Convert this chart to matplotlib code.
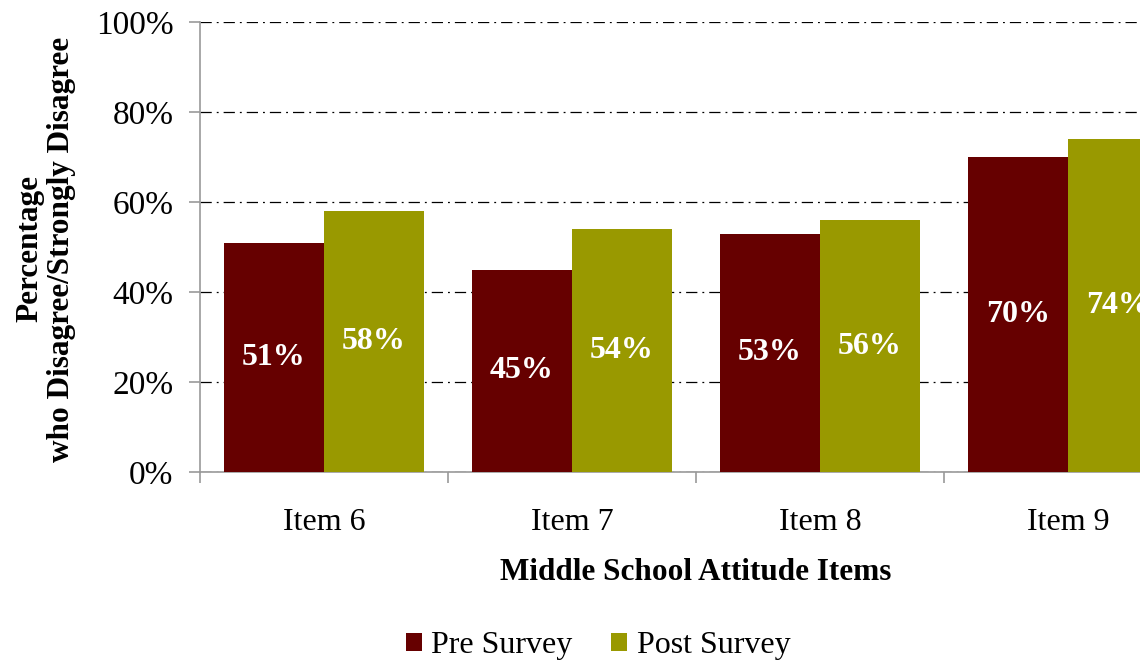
import matplotlib
matplotlib.use("Agg")
import matplotlib.pyplot as plt
import numpy as np
from matplotlib.patches import Patch

categories = ["Item 6", "Item 7", "Item 8", "Item 9"]
pre_values = [51, 45, 53, 70]
post_values = [58, 54, 56, 74]
series_names = ["Pre Survey", "Post Survey"]
yticks = [0, 20, 40, 60, 80, 100]

pre_color = "#660000"
post_color = "#999900"

plt.rcParams['font.family'] = ['Liberation Serif', 'DejaVu Serif']

W, H = 1140, 661
fig = plt.figure(figsize=(W / 100, H / 100), dpi=100)
ax = fig.add_axes([200 / W, 1 - 472 / H, 992 / W, 450 / H])

x = np.arange(len(categories))
bw = 0.403
ax.bar(x - bw / 2, pre_values, bw, color=pre_color, zorder=3)
ax.bar(x + bw / 2, post_values, bw, color=post_color, zorder=3)

for xi, v in zip(x - bw / 2, pre_values):
    ax.text(xi, v / 2, f"{v}%", ha="center", va="center", color="white",
            fontsize=23, fontweight="bold", zorder=4)
for xi, v in zip(x + bw / 2, post_values):
    ax.text(xi, v / 2, f"{v}%", ha="center", va="center", color="white",
            fontsize=23, fontweight="bold", zorder=4)

ax.set_xlim(-0.5, len(categories) - 0.5)
ax.set_ylim(0, 100)
ax.set_yticks(yticks)
ax.set_yticklabels([f"{t}%" for t in yticks], fontsize=24)
ax.yaxis.grid(True, linestyle=(0, (9, 4, 1.5, 4)), color="black", linewidth=0.9, zorder=0)
ax.set_axisbelow(True)

ax.set_xticks(x)
ax.set_xticklabels(categories, fontsize=23)
ax.tick_params(axis="x", which="major", length=0, pad=26)
ax.set_xticks(np.arange(-0.5, len(categories), 1), minor=True)
ax.tick_params(axis="x", which="minor", length=8, color="#999999", width=1.2)
ax.tick_params(axis="y", length=8, color="#999999", width=1.2, pad=11)

for s in ["top", "right"]:
    ax.spines[s].set_visible(False)
for s in ["left", "bottom"]:
    ax.spines[s].set_color("#999999")
    ax.spines[s].set_linewidth(1.2)

fig.text(696 / W, 1 - 573 / H, "Middle School Attitude Items", ha="center", va="center",
         fontsize=22.5, fontweight="bold")
fig.text(46 / W, 1 - 249 / H, "Percentage\nwho Disagree/Strongly Disagree", ha="center",
         va="center", rotation=90, fontsize=22.5, fontweight="bold", linespacing=1.12)

handles = [Patch(facecolor=pre_color), Patch(facecolor=post_color)]
fig.legend(handles, series_names, loc="center", bbox_to_anchor=(598 / W, 1 - 646 / H),
           ncol=2, frameon=False, fontsize=23, handlelength=0.5, handleheight=0.5,
           handletextpad=0.3, columnspacing=1.2)

fig.savefig("out.png", dpi=100)
